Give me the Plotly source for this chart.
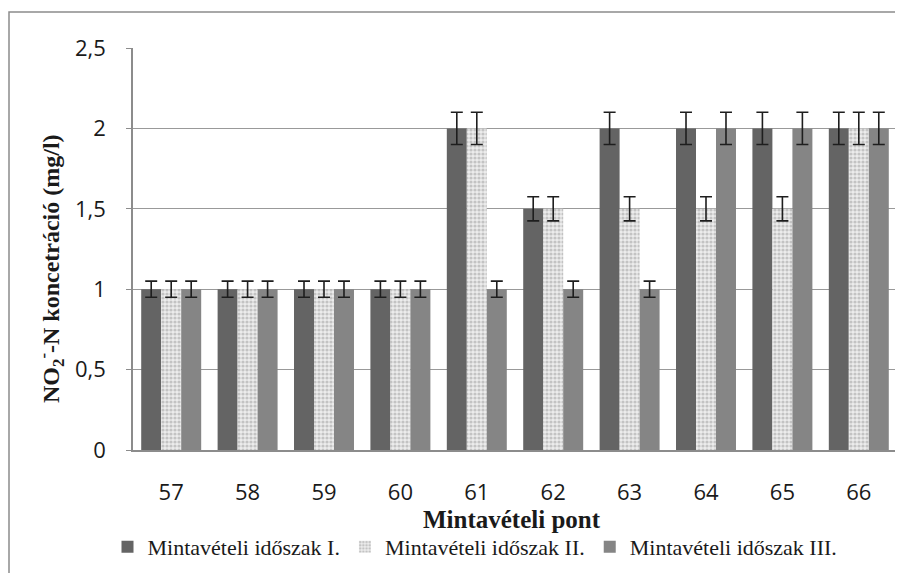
import plotly.graph_objects as go

categories = ["57", "58", "59", "60", "61", "62", "63", "64", "65", "66"]
series_names = ["Mintavételi időszak I.", "Mintavételi időszak II.", "Mintavételi időszak III."]
values_I = [1, 1, 1, 1, 2, 1.5, 2, 2, 2, 2]
values_II = [1, 1, 1, 1, 2, 1.5, 1.5, 1.5, 1.5, 2]
values_III = [1, 1, 1, 1, 1, 1, 1, 2, 2, 2]
errors_I = [0.05, 0.05, 0.05, 0.05, 0.1, 0.075, 0.1, 0.1, 0.1, 0.1]
errors_II = [0.05, 0.05, 0.05, 0.05, 0.1, 0.075, 0.075, 0.075, 0.075, 0.1]
errors_III = [0.05, 0.05, 0.05, 0.05, 0.05, 0.05, 0.05, 0.1, 0.1, 0.1]
y_ticks = [0, 0.5, 1, 1.5, 2, 2.5]

# the page body has an 8px margin, so the figure is drawn offset by (8, 8)
OFF = 8
W, H = 903 - OFF, 573 - OFF
L, T = 133 - OFF, 48 - OFF
R = W - (897 - OFF)
B = H - (450 - OFF)
pw, ph = W - L - R, H - T - B

def px_x(x):
    # reference window pixel -> paper x
    return (x - OFF - L) / pw

def px_y(y):
    return (H - B - (y - OFF)) / ph

err_style = dict(type="data", visible=True, color="#1e1e1e", thickness=1.6, width=6)

fig = go.Figure()
fig.add_trace(go.Bar(
    x=categories, y=values_I, name=series_names[0],
    marker=dict(color="#646464", line=dict(width=0)),
    error_y=dict(array=errors_I, **err_style),
))
fig.add_trace(go.Bar(
    x=categories, y=values_II, name=series_names[1],
    marker=dict(color="#e6e6e6", line=dict(width=0),
                pattern=dict(shape=".", fgcolor="#9a9a9a", bgcolor="#ececec", size=4, solidity=0.5)),
    error_y=dict(array=errors_II, **err_style),
))
fig.add_trace(go.Bar(
    x=categories, y=values_III, name=series_names[2],
    marker=dict(color="#858585", line=dict(width=0)),
    error_y=dict(array=errors_III, **err_style),
))

fig.update_layout(
    width=W, height=H,
    margin=dict(l=L, r=R, t=T, b=B, pad=0, autoexpand=False),
    paper_bgcolor="white", plot_bgcolor="white",
    barmode="group", bargap=0.215, bargroupgap=0,
    separators=",.",
    font=dict(family="Open Sans", color="#1a1a1a"),
    showlegend=True,
    legend=dict(
        orientation="h", xref="container", yref="container",
        x=(475 - OFF) / W, y=(H - (547 - OFF)) / H, xanchor="center", yanchor="middle",
        font=dict(family="Liberation Serif", size=22, color="#1a1a1a"),
        itemwidth=30, tracegroupgap=0, bgcolor="rgba(0,0,0,0)",
    ),
    xaxis=dict(
        type="category", showgrid=False, showline=True, linecolor="#8c8c8c", linewidth=1.5,
        ticks="", tickfont=dict(family="Open Sans", size=22, color="#1a1a1a"),
        ticklabelstandoff=22,
    ),
    yaxis=dict(
        range=[0, 2.5], tickvals=y_ticks, tickformat=",.1~f",
        showgrid=True, gridcolor="rgba(70,70,70,0.55)", gridwidth=1.2,
        showline=True, linecolor="#8c8c8c", linewidth=1.5,
        ticks="outside", ticklen=5, tickcolor="#8c8c8c", tickwidth=1.2,
        tickfont=dict(family="Open Sans", size=22, color="#1a1a1a"),
        ticklabelstandoff=16, layer="above traces", zeroline=False,
    ),
    annotations=[
        dict(text="<b>Mintavételi pont</b>", xref="paper", yref="paper",
             x=px_x(512), y=px_y(519), xanchor="center", yanchor="middle", showarrow=False,
             font=dict(family="Liberation Serif", size=25, color="#1a1a1a")),
        dict(text="<b>NO<sub>2</sub><sup>-</sup>-N koncetráció (mg/l)</b>", xref="paper", yref="paper",
             x=px_x(51), y=px_y(269), xanchor="center", yanchor="middle", showarrow=False, textangle=-90,
             font=dict(family="Liberation Serif", size=24, color="#1a1a1a")),
    ],
    shapes=[
        dict(type="rect", xref="paper", yref="paper",
             x0=px_x(9), x1=px_x(940), y0=px_y(620), y1=px_y(12),
             line=dict(color="#8c8c8c", width=1.5), fillcolor="rgba(0,0,0,0)", layer="below"),
    ],
)

fig.write_html("out.html")
